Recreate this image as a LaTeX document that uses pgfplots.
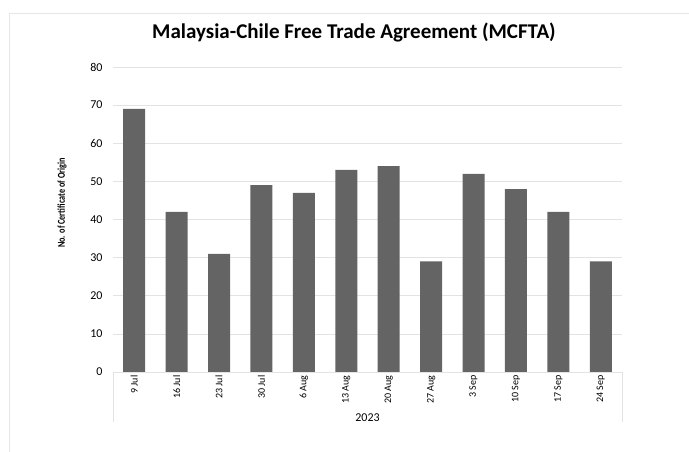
\documentclass[border=0pt]{standalone}
\usepackage{pgfplots}
\pgfplotsset{compat=1.18}
\usepackage{fontspec}
\setmainfont{Carlito}
\definecolor{barc}{HTML}{646464}
\definecolor{gridc}{HTML}{E3E3E3}
\definecolor{framec}{HTML}{E6E6E6}
\begin{document}
\begin{tikzpicture}[x=1pt,y=1pt]
\useasboundingbox (0,0) rectangle (689,451);
\draw[framec, line width=0.8pt] (9,-20) -- (9,438) -- (720,438);
\node[font=\fontsize{21}{24}\selectfont\bfseries] at (354,419) {Malaysia-Chile Free Trade Agreement (MCFTA)};
\node[rotate=90, font=\fontsize{10.5}{12}\selectfont\bfseries, xscale=0.78] at (62,248) {No. of Certificate of Origin};
\begin{axis}[
  at={(113pt,79pt)}, anchor=south west,
  scale only axis, width=509pt, height=305pt,
  xmin=-0.5, xmax=11.5, ymin=0, ymax=80,
  ytick={0,10,...,80},
  xtick={0,...,11},
  xticklabels={9 Jul,16 Jul,23 Jul,30 Jul,6 Aug,13 Aug,20 Aug,27 Aug,3 Sep,10 Sep,17 Sep,24 Sep},
  xticklabel style={rotate=90, anchor=east, font=\fontsize{10}{11}\selectfont},
  yticklabel style={font=\fontsize{12}{14}\selectfont, xshift=-7pt},
  /pgf/number format/assume math mode=true,
  ymajorgrids, grid style={gridc, line width=0.6pt},
  major tick length=0pt,
  axis line style={draw=none},
  axis x line*=bottom, axis y line*=left,
  clip=false,
]
\addplot[ybar, bar width=22pt, fill=barc, draw=none] coordinates {
(0,69) (1,42) (2,31) (3,49) (4,47) (5,53) (6,54) (7,29) (8,52) (9,48) (10,42) (11,29)};
\draw[gridc, line width=0.8pt] (axis cs:-0.5,0) -- (axis cs:11.5,0);
\draw[gridc, line width=0.8pt] (axis cs:-0.5,0) -- ([yshift=-50pt]axis cs:-0.5,0);
\draw[gridc, line width=0.8pt] (axis cs:11.5,0) -- ([yshift=-50pt]axis cs:11.5,0);
\node[font=\fontsize{12}{14}\selectfont] at ([yshift=-46pt]axis cs:5.5,0) {2023};
\end{axis}
\end{tikzpicture}
\end{document}
